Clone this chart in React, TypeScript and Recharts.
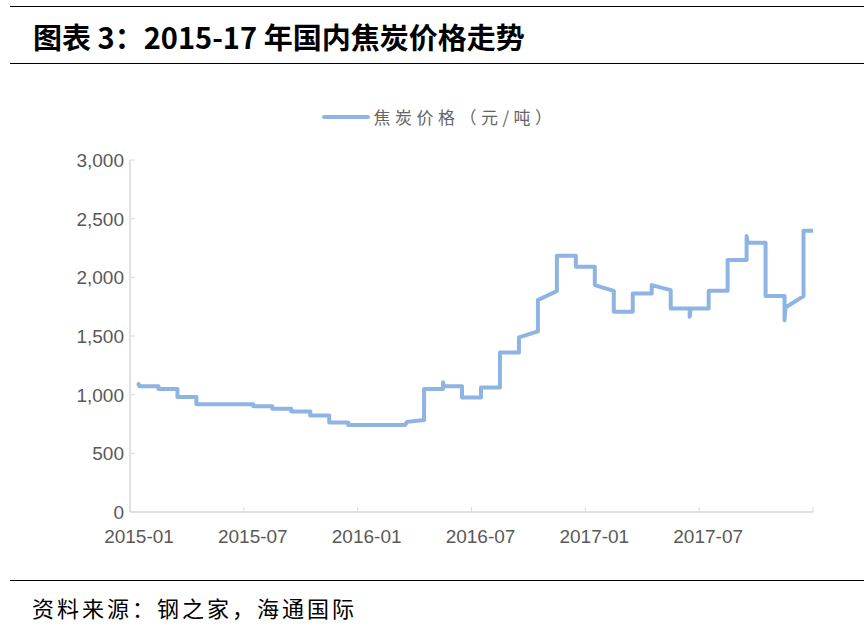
import React from 'react';
import { LineChart, Line, XAxis, YAxis, Legend } from 'recharts';

// Month index since 2015-01 (0 = start of 2015-01) at each corner of the price path
const monthIndex: number[] = [
  0.45, 0.5, 1.5, 1.5, 2.5, 2.5, 3.5, 3.5, 6.5, 6.5, 7.5, 7.5, 8.5, 8.5, 9.5, 9.5,
  10.5, 10.5, 11.5, 11.5, 14.5, 14.6, 15.5, 15.5, 16.5, 16.5, 16.55, 17.5, 17.5,
  18.5, 18.5, 19.5, 19.5, 20.5, 20.5, 21.5, 21.5, 22.5, 22.5, 23.5, 23.5, 24.5,
  24.5, 25.5, 25.5, 26.5, 26.5, 27.5, 27.5, 28.5, 28.5, 29.5, 29.5, 29.55, 30.5,
  30.5, 31.5, 31.5, 32.5, 32.5, 32.55, 33.5, 33.5, 34.5, 34.5, 34.55, 35.5, 35.5, 36,
];
// 焦炭价格（元/吨）
const cokePrice: number[] = [
  1090, 1071, 1071, 1049, 1049, 981, 981, 919, 919, 902, 902, 879, 879, 856, 856, 822,
  822, 762, 762, 742, 742, 768, 785, 1049, 1049, 1105, 1072, 1072, 976,
  976, 1061, 1061, 1360, 1360, 1488, 1539, 1806, 1883, 2184, 2184, 2090, 2090,
  1934, 1885, 1706, 1706, 1863, 1863, 1934, 1891, 1735, 1735, 1664, 1735, 1735,
  1885, 1885, 2147, 2147, 2352, 2295, 2295, 1840, 1840, 1635, 1743, 1840, 2397, 2397,
];

const xTicks: number[] = [0, 6, 12, 18, 24, 30, 36];
const xTickLabels: string[] = ['2015-01', '2015-07', '2016-01', '2016-07', '2017-01', '2017-07', ''];
const yTicks: number[] = [0, 500, 1000, 1500, 2000, 2500, 3000];

const seriesName = '焦炭价格（元/吨）';
const titleText = '图表 3：2015-17 年国内焦炭价格走势';
const sourceText = '资料来源：钢之家，海通国际';

const data = monthIndex.map((t, i) => ({ t, v: cokePrice[i] }));

const LINE_COLOR = '#8DB4E2';
const AXIS_COLOR = '#D9D9D9';
const LABEL_COLOR = '#595959';
const LABEL_FONT = '"Liberation Sans", Arial, sans-serif';

const XTick = (props: any) => {
  const { x, y, payload } = props;
  const idx = xTicks.indexOf(payload.value);
  const label = idx >= 0 ? xTickLabels[idx] : '';
  return (
    <g>
      <line x1={x} y1={y} x2={x} y2={y - 5} stroke={AXIS_COLOR} strokeWidth={1} />
      <text
        x={x + 9}
        y={y + 31}
        textAnchor="middle"
        fill={LABEL_COLOR}
        fontSize={19}
        fontFamily={LABEL_FONT}
      >
        {label}
      </text>
    </g>
  );
};

const YTick = (props: any) => {
  const { x, y, payload } = props;
  return (
    <g>
      <line x1={x + 6} y1={y} x2={x + 11} y2={y} stroke={AXIS_COLOR} strokeWidth={1} />
      <text
        x={x}
        y={y + 7}
        textAnchor="end"
        fill={LABEL_COLOR}
        fontSize={19}
        fontFamily={LABEL_FONT}
      >
        {Number(payload.value).toLocaleString('en-US')}
      </text>
    </g>
  );
};

const LegendContent = () => (
  <div
    style={{
      display: 'flex',
      alignItems: 'center',
      justifyContent: 'center',
      width: 864,
      height: 28,
      paddingLeft: 14,
      boxSizing: 'border-box',
    }}
  >
    <svg width={52} height={10}>
      <line x1={3} y1={5} x2={47} y2={5} stroke={LINE_COLOR} strokeWidth={4} strokeLinecap="round" />
    </svg>
    <span
      style={{
        fontFamily: '"Noto Sans CJK SC", sans-serif',
        fontSize: 17,
        letterSpacing: 4.5,
        color: '#666666',
        lineHeight: '28px',
      }}
    >
      {seriesName}
    </span>
  </div>
);

export default function App() {
  return (
    <div
      style={{
        position: 'absolute',
        left: 0,
        top: 0,
        width: 864,
        height: 641,
        background: '#ffffff',
        overflow: 'hidden',
      }}
    >
      <div style={{ position: 'absolute', left: 10, top: 6, width: 854, height: 1, background: '#000' }} />
      <div
        style={{
          position: 'absolute',
          left: 33,
          top: 20,
          fontFamily: '"Noto Sans CJK SC", sans-serif',
          fontWeight: 700,
          fontSize: 29,
          lineHeight: '32px',
          color: '#000',
          whiteSpace: 'nowrap',
        }}
      >
        {titleText}
      </div>
      <div style={{ position: 'absolute', left: 10, top: 63, width: 854, height: 1, background: '#000' }} />

      <div style={{ position: 'absolute', left: 0, top: 0 }}>
        <LineChart
          width={864}
          height={641}
          data={data}
          margin={{ top: 132, right: 51, bottom: 99, left: 70 }}
        >
          <Legend
            verticalAlign="top"
            content={<LegendContent />}
            wrapperStyle={{ position: 'absolute', top: 103, left: 0, width: 864 }}
          />
          <XAxis
            dataKey="t"
            type="number"
            domain={[0, 36]}
            ticks={xTicks}
            interval={0}
            axisLine={{ stroke: AXIS_COLOR, strokeWidth: 1.5 }}
            tickLine={false}
            tickSize={0}
            tickMargin={0}
            height={30}
            tick={<XTick />}
            allowDataOverflow
          />
          <YAxis
            type="number"
            domain={[0, 3000]}
            ticks={yTicks}
            interval={0}
            axisLine={{ stroke: AXIS_COLOR, strokeWidth: 1.5 }}
            tickLine={false}
            tickSize={0}
            tickMargin={6}
            width={60}
            tick={<YTick />}
          />
          <Line
            dataKey="v"
            name={seriesName}
            type="linear"
            stroke={LINE_COLOR}
            strokeWidth={4}
            dot={false}
            activeDot={false}
            isAnimationActive={false}
            strokeLinejoin="round"
            strokeLinecap="round"
          />
        </LineChart>
      </div>

      <div style={{ position: 'absolute', left: 10, top: 580, width: 854, height: 1, background: '#000' }} />
      <div
        style={{
          position: 'absolute',
          left: 32,
          top: 594,
          fontFamily: '"Noto Sans CJK SC", sans-serif',
          fontSize: 22,
          lineHeight: '26px',
          letterSpacing: 3,
          color: '#000',
          whiteSpace: 'nowrap',
        }}
      >
        {sourceText}
      </div>
    </div>
  );
}
